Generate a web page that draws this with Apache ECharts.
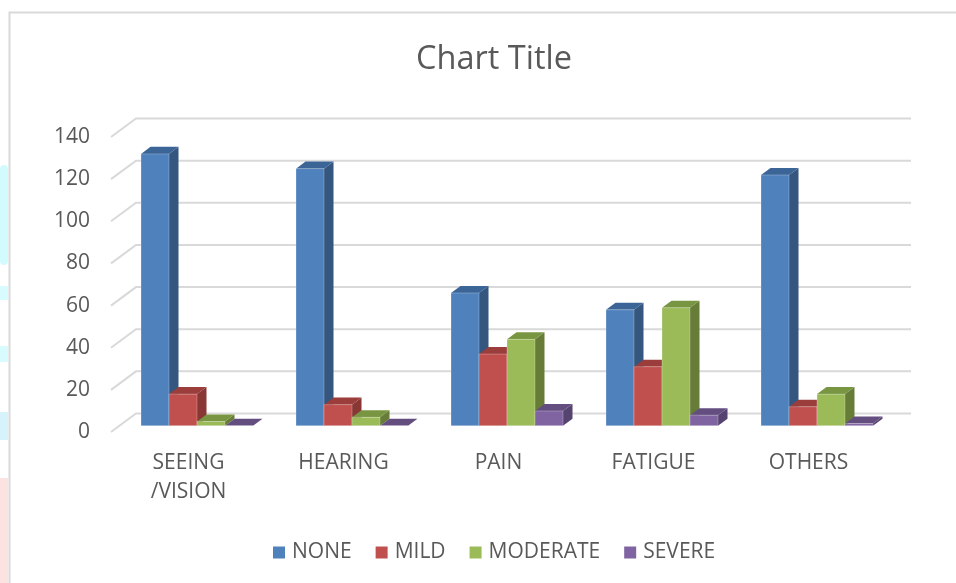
<!DOCTYPE html>
<html>
<head>
<meta charset="utf-8">
<script src="https://cdn.jsdelivr.net/npm/echarts@6/dist/echarts.min.js"></script>
<style>
html,body{margin:0;padding:0;background:#fff;}
#chart{width:956px;height:583px;}
</style>
</head>
<body>
<div id="chart"></div>
<script>
const categories = ['SEEING\n/VISION', 'HEARING', 'PAIN', 'FATIGUE', 'OTHERS'];
const seriesNames = ['NONE', 'MILD', 'MODERATE', 'SEVERE'];
const none = [129, 122, 63, 55, 119];
const mild = [15, 10, 34, 28, 9];
const moderate = [2, 4, 41, 56, 15];
const severe = [0, 0, 7, 5, 1];
const yTicks = [0, 20, 40, 60, 80, 100, 120, 140];

const seriesValues = [none, mild, moderate, severe];
const palette = [
  { front: '#4f81bd', side: '#34567f', top: '#3b6497' },
  { front: '#c0504d', side: '#883734', top: '#9b3d3a' },
  { front: '#9bbb59', side: '#677d37', top: '#789541' },
  { front: '#8064a2', side: '#564470', top: '#644e80' }
];

// oblique "3D" projection constants (pixels)
const WALL_DX = 25, WALL_DY = 18.5;      // depth of the floor / wall
const BAR_D0 = 0.34;                      // bar front face depth fraction
const BAR_D = 0.38;                       // bar depth fraction
const BAR_FRAC = 28 / 155;                // bar width relative to band

const chart = echarts.init(document.getElementById('chart'));

function gridRender(params, api) {
  const v = api.value(1);
  const band = api.size([1, 0])[0];
  const p0 = api.coord([0, v]);
  const p1 = api.coord([categories.length - 1, v]);
  const left = p0[0] - band / 2;
  const right = p1[0] + band / 2;
  const y = p0[1];
  return {
    type: 'polyline',
    shape: { points: [[left, y], [left + WALL_DX, y - WALL_DY], [right + WALL_DX, y - WALL_DY]] },
    style: { stroke: '#d9d9d9', lineWidth: 2, fill: null }
  };
}

function makeBarRender(si) {
  return function (params, api) {
    const cat = api.value(0);
    const val = api.value(1);
    const band = api.size([1, 0])[0];
    const bw = band * BAR_FRAC;
    const base = api.coord([cat, 0]);
    const topP = api.coord([cat, val]);
    const ox = BAR_D0 * WALL_DX, oy = BAR_D0 * WALL_DY;
    const dx = BAR_D * WALL_DX, dy = BAR_D * WALL_DY;
    const x0 = base[0] - 2 * bw + si * bw + ox;
    const x1 = x0 + bw;
    const yb = base[1] - oy;
    const yt = topP[1] - oy;
    const c = palette[si];
    return {
      type: 'group',
      children: [
        {
          type: 'polygon',
          shape: { points: [[x1, yb], [x1 + dx, yb - dy], [x1 + dx, yt - dy], [x1, yt]] },
          style: { fill: c.side }
        },
        {
          type: 'polygon',
          shape: { points: [[x0, yt], [x1, yt], [x1 + dx, yt - dy], [x0 + dx, yt - dy]] },
          style: { fill: c.top }
        },
        {
          type: 'rect',
          shape: { x: x0, y: yt, width: bw, height: Math.max(yb - yt, 0) },
          style: { fill: c.front, stroke: 'rgba(255,255,255,0.25)', lineWidth: 1 }
        }
      ]
    };
  };
}

const series = [{
  type: 'custom',
  name: '_grid',
  renderItem: gridRender,
  data: yTicks.map(v => [0, v]),
  encode: { x: 0, y: 1 },
  silent: true,
  clip: false,
  z: 1
}];
seriesNames.forEach((name, si) => {
  series.push({
    type: 'custom',
    name: name,
    renderItem: makeBarRender(si),
    data: seriesValues[si].map((v, i) => [i, v]),
    encode: { x: 0, y: 1 },
    itemStyle: { color: palette[si].front },
    clip: false,
    z: 2
  });
});

const option = {
  animation: false,
  backgroundColor: '#ffffff',
  textStyle: { fontFamily: 'Open Sans' },
  title: {
    text: 'Chart Title',
    left: 489,
    textAlign: 'center',
    top: 38,
    textStyle: { fontFamily: 'Open Sans', fontSize: 32.5, fontWeight: 'normal', color: '#595959' }
  },
  legend: {
    data: seriesNames,
    left: 268,
    top: 537,
    icon: 'rect',
    itemWidth: 12,
    itemHeight: 12,
    itemGap: 24,
    textStyle: { fontFamily: 'Open Sans', fontSize: 21, color: '#595959', padding: [0, 0, 0, 2] }
  },
  grid: { left: 111, right: 70, top: 137, bottom: 151, containLabel: false },
  xAxis: {
    type: 'category',
    data: categories,
    axisLine: { show: false },
    axisTick: { show: false },
    splitLine: { show: false },
    axisLabel: { fontFamily: 'Open Sans', fontSize: 21, lineHeight: 29, color: '#595959', margin: 17, interval: 0 }
  },
  yAxis: {
    type: 'value',
    min: 0,
    max: 140,
    interval: 20,
    axisLine: { show: false },
    axisTick: { show: false },
    splitLine: { show: false },
    axisLabel: { fontFamily: 'Open Sans', fontSize: 21, color: '#595959', margin: 21 }
  },
  graphic: [
    { type: 'rect', shape: { x: 9.5, y: 12.5, width: 1200, height: 1200 }, style: { fill: null, stroke: '#d9d9d9', lineWidth: 2 }, silent: true },
    { type: 'rect', shape: { x: 0, y: 165, width: 8, height: 100, r: 4 }, style: { fill: '#d2fbfd' }, silent: true },
    { type: 'rect', shape: { x: 0, y: 286, width: 8, height: 14 }, style: { fill: '#d8fbfd' }, silent: true },
    { type: 'rect', shape: { x: 0, y: 346, width: 8, height: 16 }, style: { fill: '#d8fbfd' }, silent: true },
    { type: 'rect', shape: { x: 0, y: 412, width: 8, height: 28 }, style: { fill: '#d6f3fb' }, silent: true },
    { type: 'rect', shape: { x: 0, y: 478, width: 8, height: 110 }, style: { fill: '#fde2e2' }, silent: true }
  ],
  series: series
};
chart.setOption(option);
</script>
</body>
</html>
